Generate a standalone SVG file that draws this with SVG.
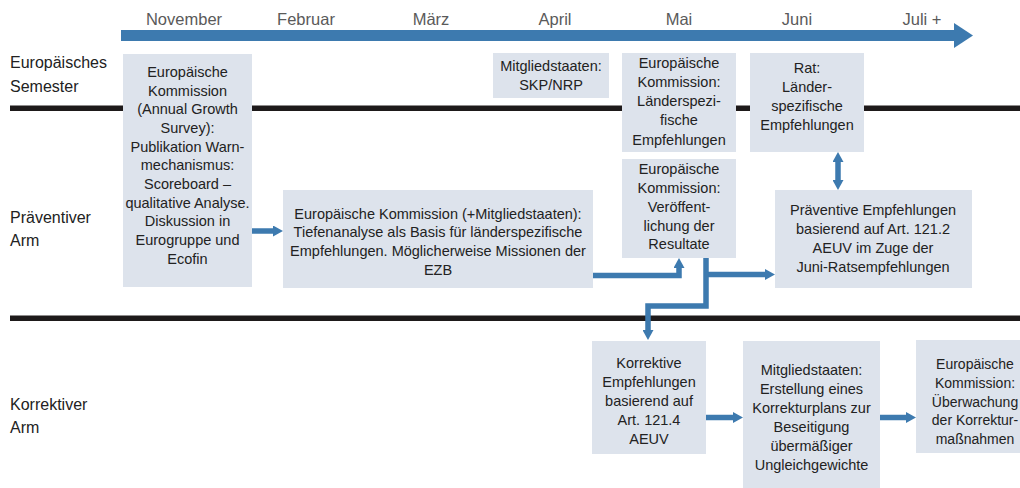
<svg xmlns="http://www.w3.org/2000/svg" width="1020" height="488" viewBox="0 0 1020 488">
  <style>
    .box { fill: #DDE3EC; }
    .t { font-family: "Liberation Sans", Arial, sans-serif; font-size: 14.5px; fill: #222; text-anchor: middle; }
    .t2 { font-size: 14px; }
    .month { font-family: "Liberation Sans", Arial, sans-serif; font-size: 16.5px; fill: #5a5a5a; text-anchor: middle; }
    .row { font-family: "Liberation Sans", Arial, sans-serif; font-size: 16px; fill: #222; }
    .sep { fill: #1E1A1A; }
    .conn { fill: none; stroke: #3D7AAF; stroke-width: 5.5; stroke-linejoin: miter; }
  </style>
  <defs>
    <marker id="ah" viewBox="0 0 10 11" refX="4" refY="5.5" markerWidth="10" markerHeight="11" markerUnits="userSpaceOnUse" orient="auto-start-reverse">
      <path d="M0,0 L10,5.5 L0,11 z" fill="#3D7AAF"/>
    </marker>
  </defs>
  <rect width="1020" height="488" fill="#ffffff"/>

  <g id="timeline">
    <rect x="121" y="30" width="834" height="11" fill="#3D7AAF"/>
    <polygon points="954,23 973,35.5 954,48" fill="#3D7AAF"/>
    <text class="month" x="184" y="25">November</text>
    <text class="month" x="306" y="25">Februar</text>
    <text class="month" x="431" y="25">März</text>
    <text class="month" x="555" y="25">April</text>
    <text class="month" x="679" y="25">Mai</text>
    <text class="month" x="797" y="25">Juni</text>
    <text class="month" x="922" y="25">Juli +</text>
  </g>

  <g id="separators">
    <rect class="sep" x="10" y="105.5" width="1010" height="5.5"/>
    <rect class="sep" x="10" y="315.5" width="1010" height="5.5"/>
  </g>

  <g id="row-labels">
    <text class="row" x="10" y="68">Europäisches</text>
    <text class="row" x="10" y="92">Semester</text>
    <text class="row" x="10" y="223">Präventiver</text>
    <text class="row" x="10" y="246">Arm</text>
    <text class="row" x="10" y="410">Korrektiver</text>
    <text class="row" x="10" y="433">Arm</text>
  </g>

  <g id="node-ags">
    <rect class="box" x="123" y="54" width="129" height="233"/>
    <text class="t" x="187.5" y="77">Europäische</text>
    <text class="t" x="187.5" y="95.7">Kommission</text>
    <text class="t" x="187.5" y="114.3">(Annual Growth</text>
    <text class="t" x="187.5" y="133">Survey):</text>
    <text class="t" x="187.5" y="151.7">Publikation Warn-</text>
    <text class="t" x="187.5" y="170.3">mechanismus:</text>
    <text class="t" x="187.5" y="189">Scoreboard –</text>
    <text class="t" x="187.5" y="207.7">qualitative Analyse.</text>
    <text class="t" x="187.5" y="226.3">Diskussion in</text>
    <text class="t" x="187.5" y="245">Eurogruppe und</text>
    <text class="t" x="187.5" y="263.7">Ecofin</text>
  </g>

  <g id="node-skp">
    <rect class="box" x="493" y="53" width="116" height="45"/>
    <text class="t" x="551" y="70.5">Mitgliedstaaten:</text>
    <text class="t" x="551" y="90">SKP/NRP</text>
  </g>

  <g id="node-lse">
    <rect class="box" x="622" y="53" width="114" height="99"/>
    <text class="t" x="679" y="67.5">Europäische</text>
    <text class="t" x="679" y="86.8">Kommission:</text>
    <text class="t" x="679" y="106.1">Länderspezi-</text>
    <text class="t" x="679" y="125.4">fische</text>
    <text class="t" x="679" y="144.7">Empfehlungen</text>
  </g>

  <g id="node-rat">
    <rect class="box" x="750" y="53" width="114" height="99"/>
    <text class="t" x="807" y="73">Rat:</text>
    <text class="t" x="807" y="92">Länder-</text>
    <text class="t" x="807" y="111">spezifische</text>
    <text class="t" x="807" y="130">Empfehlungen</text>
  </g>

  <g id="node-tiefenanalyse">
    <rect class="box" x="283" y="190" width="310" height="98"/>
    <text class="t" x="438" y="218.5">Europäische Kommission (+Mitgliedstaaten):</text>
    <text class="t" x="438" y="237">Tiefenanalyse als Basis für länderspezifische</text>
    <text class="t" x="438" y="256">Empfehlungen. Möglicherweise Missionen der</text>
    <text class="t" x="438" y="274.5">EZB</text>
  </g>

  <g id="node-veroeffentlichung">
    <rect class="box" x="622" y="159" width="114" height="99"/>
    <text class="t" x="679" y="173.5">Europäische</text>
    <text class="t" x="679" y="192.5">Kommission:</text>
    <text class="t" x="679" y="211.5">Veröffent-</text>
    <text class="t" x="679" y="230.5">lichung der</text>
    <text class="t" x="679" y="249">Resultate</text>
  </g>

  <g id="node-praeventiv">
    <rect class="box" x="775" y="190" width="197" height="98"/>
    <text class="t" x="873" y="214.5">Präventive Empfehlungen</text>
    <text class="t" x="873" y="233.5">basierend auf Art. 121.2</text>
    <text class="t" x="873" y="252.5">AEUV im Zuge der</text>
    <text class="t" x="873" y="271.5">Juni-Ratsempfehlungen</text>
  </g>

  <g id="node-korrektiv">
    <rect class="box" x="592" y="341" width="114" height="113"/>
    <text class="t" x="649" y="368">Korrektive</text>
    <text class="t" x="649" y="387">Empfehlungen</text>
    <text class="t" x="649" y="406">basierend auf</text>
    <text class="t" x="649" y="425">Art. 121.4</text>
    <text class="t" x="649" y="444">AEUV</text>
  </g>

  <g id="node-korrekturplan">
    <rect class="box" x="743" y="341" width="137" height="147"/>
    <text class="t" x="811.5" y="375">Mitgliedstaaten:</text>
    <text class="t" x="811.5" y="394">Erstellung eines</text>
    <text class="t" x="811.5" y="413">Korrekturplans zur</text>
    <text class="t" x="811.5" y="432">Beseitigung</text>
    <text class="t" x="811.5" y="451">übermäßiger</text>
    <text class="t" x="811.5" y="470">Ungleichgewichte</text>
  </g>

  <g id="node-ueberwachung">
    <rect class="box" x="916" y="340" width="110" height="113"/>
    <text class="t t2" x="975" y="368.5">Europäische</text>
    <text class="t t2" x="975" y="387.5">Kommission:</text>
    <text class="t t2" x="975" y="406.5">Überwachung</text>
    <text class="t t2" x="975" y="425">der Korrektur-</text>
    <text class="t t2" x="975" y="443.5">maßnahmen</text>
  </g>

  <g id="connectors">
    <path class="conn" d="M252,231 H277" marker-end="url(#ah)"/>
    <path class="conn" d="M593,275.5 H679 V264" marker-end="url(#ah)"/>
    <path class="conn" d="M706,274.5 H769" marker-end="url(#ah)"/>
    <path class="conn" d="M706,258 V306 H648 V334" marker-end="url(#ah)"/>
    <path class="conn" d="M838,158 V184" marker-start="url(#ah)" marker-end="url(#ah)"/>
    <path class="conn" d="M706,417.5 H737" marker-end="url(#ah)"/>
    <path class="conn" d="M880,417.5 H910" marker-end="url(#ah)"/>
  </g>
</svg>
